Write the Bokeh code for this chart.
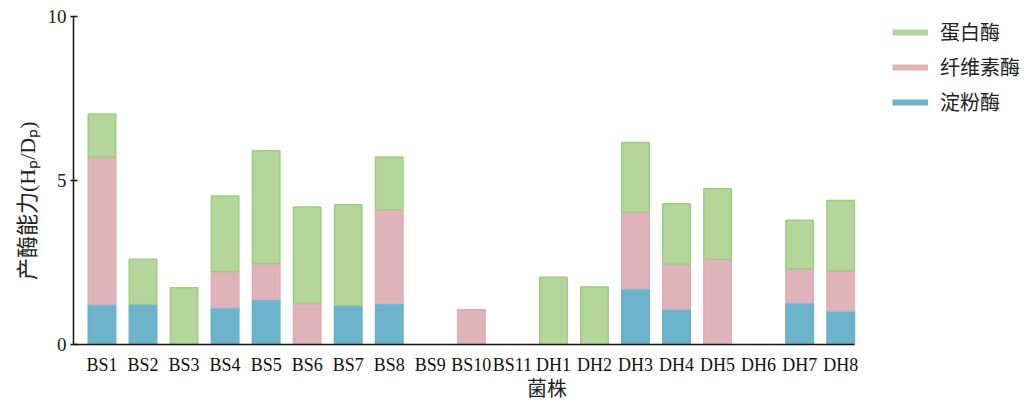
from bokeh.plotting import figure
from bokeh.models import Range1d, FixedTicker, Legend, LegendItem, ColumnDataSource, Title
from bokeh.embed import file_html
from bokeh.resources import INLINE

strains = ["BS1", "BS2", "BS3", "BS4", "BS5", "BS6", "BS7", "BS8", "BS9", "BS10", "BS11",
           "DH1", "DH2", "DH3", "DH4", "DH5", "DH6", "DH7", "DH8"]
amylase = [1.22, 1.22, 0, 1.12, 1.37, 0, 1.19, 1.25, 0, 0, 0,
           0, 0, 1.70, 1.08, 0, 0, 1.27, 1.02]
cellulase = [4.49, 0, 0, 1.10, 1.09, 1.25, 0, 2.86, 0, 1.06, 0,
             0, 0, 2.33, 1.37, 2.60, 0, 1.04, 1.22]
protease = [1.32, 1.38, 1.73, 2.31, 3.45, 2.94, 3.07, 1.61, 0, 0, 0,
            2.05, 1.75, 2.13, 1.84, 2.15, 0, 1.48, 2.15]
series_names = ["淀粉酶", "纤维素酶", "蛋白酶"]
y_ticks = [0, 5, 10]
y_title = "产酶能力(Hₚ/Dₚ)"
x_title = "菌株"

fills = ["#6db3cb", "#e0b3ba", "#b4d69a"]
lines = ["#69b1c9", "#dcaeb6", "#a2cc84"]

FONT = "Liberation Serif, Noto Sans CJK SC"

X0, X1 = -0.694, 18.33          # extent of the x axis
XR = X0 + 947 / 41.04           # frame extends right to hold the legend

p = figure(frame_width=947, frame_height=328,
           x_range=Range1d(X0, XR), y_range=Range1d(0, 10),
           output_backend="svg", toolbar_location=None,
           min_border_left=73, min_border_top=16, min_border_bottom=54,
           min_border_right=0)
p.outline_line_color = None
p.xgrid.visible = False
p.ygrid.visible = False
p.background_fill_color = "white"

idx = list(range(len(strains)))
series = [amylase, cellulase, protease]
bottom = [0.0] * len(strains)
for s, fc, lc in zip(series, fills, lines):
    xs, bs, ts = [], [], []
    for i, v in enumerate(s):
        if v > 0:
            xs.append(idx[i]); bs.append(bottom[i]); ts.append(bottom[i] + v)
        bottom[i] += v
    src = ColumnDataSource(dict(x=xs, b=bs, t=ts))
    p.vbar(x="x", bottom="b", top="t", width=0.67, source=src,
           fill_color=fc, line_color=lc, line_width=1.5)

# legend proxies (single point lines draw nothing in the plot)
items = []
for name, fc in list(zip(series_names, fills))[::-1]:
    r = p.line(x=[0], y=[-1], line_color=fc, line_width=6)
    items.append(LegendItem(label=name, renderers=[r]))
legend = Legend(items=items, location=(819, 228), orientation="vertical",
                glyph_width=36, glyph_height=20, label_height=20,
                label_standoff=12, spacing=6, padding=5, margin=0,
                border_line_color=None, background_fill_alpha=0,
                label_text_font=FONT, label_text_font_size="20px",
                label_text_color="#222222")
p.add_layout(legend, "center")

# axes
xa = p.xaxis[0]
xa.bounds = (X0, X1)
xa.ticker = FixedTicker(ticks=idx)
xa.major_label_overrides = {i: s for i, s in zip(idx, strains)}
xa.major_tick_line_color = None
xa.minor_tick_line_color = None
xa.axis_line_width = 1.5
xa.axis_line_color = "#111111"
xa.major_label_text_font = FONT
xa.major_label_text_font_size = "18px"
xa.major_label_text_color = "#111111"
xa.major_label_standoff = 4
xa.axis_label = x_title
xa.axis_label_text_font = FONT
xa.axis_label_text_font_size = "20px"
xa.axis_label_text_font_style = "normal"
xa.axis_label_text_color = "#222222"
xa.axis_label_standoff = 0

ya = p.yaxis[0]
ya.ticker = FixedTicker(ticks=y_ticks)
ya.minor_tick_line_color = None
ya.major_tick_in = 4
ya.major_tick_out = 3
ya.major_tick_line_width = 1.5
ya.axis_line_width = 1.5
ya.axis_line_color = "#111111"
ya.major_tick_line_color = "#111111"
ya.major_label_text_font = FONT
ya.major_label_text_font_size = "19px"
ya.major_label_text_color = "#222222"
ya.major_label_standoff = 4

# y title as a side-panel title, aligned to start lower like the reference
yt = Title(text=y_title, align="right", offset=105, standoff=9,
           text_font=FONT, text_font_size="22px", text_font_style="normal",
           text_color="#222222")
p.add_layout(yt, "left")

open("out.html", "w").write(file_html(p, INLINE))
